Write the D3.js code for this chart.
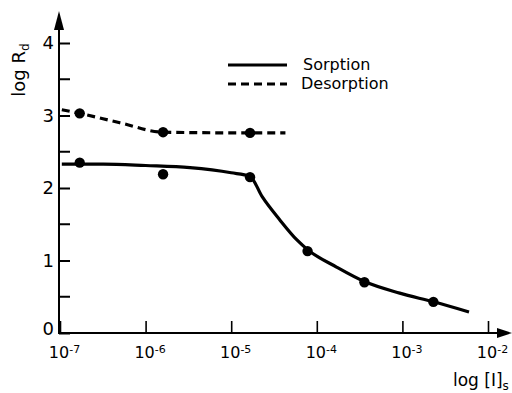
<!DOCTYPE html>
<html>
<head>
<meta charset="utf-8">
<script src="https://cdn.jsdelivr.net/npm/d3@7"></script>
<style>
  body { margin: 0; background: #fff; }
  svg { display: block; }
  text { font-family: "DejaVu Sans", "Liberation Sans", sans-serif; fill: #000; }
</style>
</head>
<body>
<svg id="chart" width="512" height="393"></svg>
<script>
// values
const xTickExps = [-7, -6, -5, -4, -3, -2];
const yTicks = [0, 1, 2, 3, 4];
const yMinor = [0.5, 1.5, 2.5, 3.5];

const sorptionConc = [1.05e-7, 3.2e-7, 1e-6, 3.3e-6, 1e-5, 1.66e-5, 2.3e-5, 3.7e-5, 5.9e-5, 7.8e-5, 1.7e-4, 3.6e-4, 9.3e-4, 2.3e-3, 6e-3];
const sorptionLogRd = [2.33, 2.33, 2.31, 2.28, 2.21, 2.16, 1.88, 1.56, 1.28, 1.15, 0.91, 0.71, 0.55, 0.43, 0.29];
const sorptionPtConc = [1.7e-7, 1.6e-6, 1.66e-5, 7.8e-5, 3.6e-4, 2.3e-3];
const sorptionPtLogRd = [2.35, 2.19, 2.15, 1.13, 0.70, 0.43];

const desorptionConc = [1.05e-7, 1.7e-7, 5e-7, 1.6e-6, 1.66e-5, 4.3e-5];
const desorptionLogRd = [3.08, 3.03, 2.90, 2.77, 2.76, 2.76];
const desorptionPtConc = [1.7e-7, 1.6e-6, 1.66e-5];
const desorptionPtLogRd = [3.03, 2.77, 2.76];

const svg = d3.select("#chart");

const x = d3.scaleLog().domain([1e-7, 1e-2]).range([60, 488]);
const y = d3.scaleLinear().domain([0, 4]).range([333, 43]);

const line = d3.line()
    .x(d => x(d[0]))
    .y(d => y(d[1]))
    .curve(d3.curveMonotoneX);

// y axis
const yAxis = svg.append("g")
    .attr("transform", "translate(59,0)")
    .call(d3.axisLeft(y).tickValues(yTicks).tickSize(-11).tickPadding(5).tickFormat(d3.format("d")));
yAxis.select(".domain").remove();
yAxis.selectAll("line").attr("stroke-width", 2);
yAxis.selectAll("text").style("font-size", "18px");
yAxis.selectAll(".tick").filter(d => d === 0).select("text").attr("dy", "0.1em");

svg.append("g")
    .selectAll("line")
    .data(yMinor)
    .join("line")
    .attr("x1", 59).attr("x2", 70)
    .attr("y1", d => y(d)).attr("y2", d => y(d))
    .attr("stroke", "#000").attr("stroke-width", 2);

// x axis
const xAxis = svg.append("g")
    .attr("transform", "translate(0,333)")
    .call(d3.axisBottom(x).tickValues(xTickExps.map(e => Math.pow(10, e))).tickSize(-12).tickFormat(""));
xAxis.select(".domain").remove();
xAxis.selectAll("line").attr("stroke-width", 1.6);

const xl = xAxis.selectAll(".tick").append("text")
    .attr("y", 25)
    .attr("x", 4)
    .attr("text-anchor", "middle")
    .style("font-size", "16px");
xl.append("tspan").text("10");
xl.append("tspan").attr("dy", "-0.5em").style("font-size", "11px")
    .text((d, i) => "-" + (-xTickExps[i]));

// axis lines with arrows
svg.append("line").attr("x1", 59).attr("x2", 59).attr("y1", 334).attr("y2", 24)
    .attr("stroke", "#000").attr("stroke-width", 2);
svg.append("path").attr("d", "M59,11 L54,30 L64,30 Z").attr("fill", "#000");
svg.append("line").attr("x1", 58).attr("x2", 500).attr("y1", 333).attr("y2", 333)
    .attr("stroke", "#000").attr("stroke-width", 2);
svg.append("path").attr("d", "M512,333 L497,328 L497,338 Z").attr("fill", "#000");

// axis titles
const yt = svg.append("text")
    .attr("transform", "translate(25,70) rotate(-90)")
    .attr("text-anchor", "middle")
    .style("font-size", "18px");
yt.append("tspan").text("log R");
yt.append("tspan").attr("dy", "0.3em").style("font-size", "12px").text("d");

const xt = svg.append("text")
    .attr("x", 453).attr("y", 386)
    .style("font-size", "17px");
xt.append("tspan").text("log [I]");
xt.append("tspan").attr("dy", "0.3em").style("font-size", "12px").text("s");

// curves
svg.append("path")
    .datum(sorptionConc.map((c, i) => [c, sorptionLogRd[i]]))
    .attr("d", line)
    .attr("fill", "none").attr("stroke", "#000").attr("stroke-width", 3.2);

svg.append("path")
    .datum(desorptionConc.map((c, i) => [c, desorptionLogRd[i]]))
    .attr("d", line)
    .attr("fill", "none").attr("stroke", "#000").attr("stroke-width", 3.2)
    .attr("stroke-dasharray", "8,5");

svg.append("g").selectAll("circle")
    .data(sorptionPtConc.map((c, i) => [c, sorptionPtLogRd[i]]))
    .join("circle")
    .attr("cx", d => x(d[0])).attr("cy", d => y(d[1])).attr("r", 5.2);

svg.append("g").selectAll("circle")
    .data(desorptionPtConc.map((c, i) => [c, desorptionPtLogRd[i]]))
    .join("circle")
    .attr("cx", d => x(d[0])).attr("cy", d => y(d[1])).attr("r", 5.2);

// legend
const legend = svg.append("g").attr("transform", "translate(228,65)");
legend.append("line").attr("x1", 0).attr("x2", 59).attr("y1", 0).attr("y2", 0)
    .attr("stroke", "#000").attr("stroke-width", 3.2);
legend.append("text").attr("x", 75).attr("y", 5).style("font-size", "16px").text("Sorption");
legend.append("line").attr("x1", 0).attr("x2", 59).attr("y1", 19).attr("y2", 19)
    .attr("stroke", "#000").attr("stroke-width", 3.2).attr("stroke-dasharray", "8,5");
legend.append("text").attr("x", 73).attr("y", 24).style("font-size", "16px").text("Desorption");
</script>
</body>
</html>
